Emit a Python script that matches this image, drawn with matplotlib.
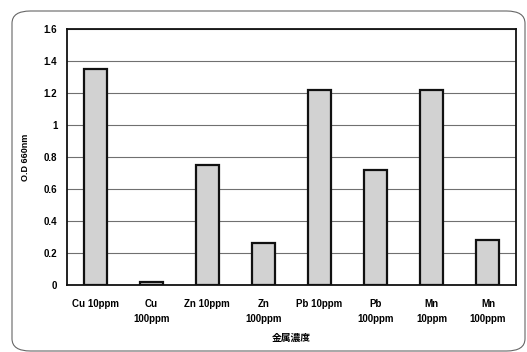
import matplotlib
matplotlib.use("Agg")
import matplotlib.pyplot as plt
from matplotlib.patches import FancyBboxPatch

plt.rcParams['font.family'] = ['Liberation Sans', 'Noto Sans CJK JP']

categories = ["Cu 10ppm", "Cu\n100ppm", "Zn 10ppm", "Zn\n100ppm",
              "Pb 10ppm", "Pb\n100ppm", "Mn\n10ppm", "Mn\n100ppm"]
values = [1.35, 0.02, 0.75, 0.26, 1.22, 0.72, 1.22, 0.28]
yticks = [0, 0.2, 0.4, 0.6, 0.8, 1, 1.2, 1.4, 1.6]
ytick_labels = ["0", "0.2", "0.4", "0.6", "0.8", "1", "1.2", "1.4", "1.6"]

fig = plt.figure(figsize=(5.27, 3.52), dpi=100)
fig.patch.set_facecolor("white")

W, H = 527, 352
border = FancyBboxPatch((12/W, 1-351/H), (525-12)/W, (351-11)/H,
                        boxstyle="round,pad=0,rounding_size=0.035",
                        transform=fig.transFigure, fill=False,
                        edgecolor="#666666", linewidth=0.8)
fig.patches.append(border)

ax = fig.add_axes([67/W, 1-285/H, (516-67)/W, (285-29)/H])
x = list(range(len(categories)))
ax.bar(x, values, width=0.41, color="#d2d2d2", edgecolor="#111111",
       linewidth=1.6, zorder=3)
ax.set_xlim(-0.5, len(categories)-0.5)
ax.set_ylim(0, 1.6)
ax.set_yticks(yticks)
ax.set_yticklabels(ytick_labels, fontsize=7, fontweight="bold")
ax.set_xticks(x)
ax.set_xticklabels(categories, fontsize=7, fontweight="bold", linespacing=1.7)
ax.tick_params(axis='y', length=0, pad=7)
ax.tick_params(axis='x', length=0, pad=10)
ax.grid(axis='y', color="#707070", linewidth=0.8, zorder=0)
for s in ax.spines.values():
    s.set_linewidth(1.3)
    s.set_color("#111111")
ax.set_ylabel("O.D 660nm", fontsize=6.5, fontweight="bold", labelpad=10)
ax.set_xlabel("金属濃度", fontsize=7, fontweight="bold",
              family=['Noto Sans CJK JP', 'DejaVu Sans'], labelpad=6)

fig.savefig("out.png", dpi=100)
